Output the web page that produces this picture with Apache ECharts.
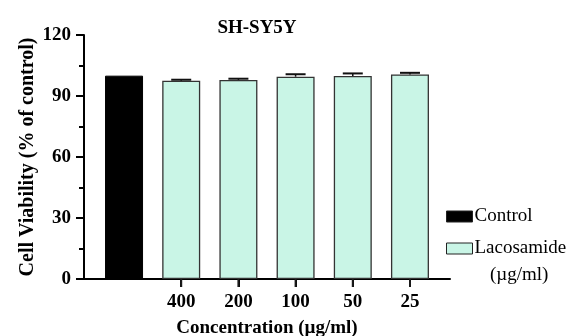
<!DOCTYPE html>
<html>
<head>
<meta charset="UTF-8" />
<title>SH-SY5Y viability</title>
<script src="https://cdn.jsdelivr.net/npm/echarts@6/dist/echarts.min.js"></script>
<style>
  html, body { margin: 0; padding: 0; background: #fff; }
  #chart { width: 573px; height: 336px; }
</style>
</head>
<body>
<div id="chart"></div>
<script>
  // data
  var concLabels = ['400', '200', '100', '50', '25'];
  var controlValue = 100;
  var lacoValues = [97.5, 97.9, 99.5, 99.8, 100.6];
  var lacoErrors = [0.5, 0.6, 1.2, 1.3, 0.8];
  var yTicks = [0, 30, 60, 90, 120];

  var font = "'Liberation Serif', 'Times New Roman', serif";
  var lacoColor = '#c9f5e6';

  var chart = echarts.init(document.getElementById('chart'));

  // x position 0 is the control, 1..5 the lacosamide doses
  var lacoData = lacoValues.map(function (v, i) { return [i + 1, v]; });
  var errData = lacoValues.map(function (v, i) { return [i + 1, v, lacoErrors[i]]; });
  var doseTicks = concLabels.map(function (l, i) { return i + 1; });

  var option = {
    animation: false,
    title: {
      text: 'SH-SY5Y',
      left: 252,
      top: 14,
      textAlign: 'center',
      textStyle: { fontFamily: font, fontSize: 19, fontWeight: 'bold', color: '#000' }
    },
    grid: { left: 84, right: 123, top: 35, bottom: 57, outerBoundsMode: 'none', containLabel: false },
    legend: {
      orient: 'vertical',
      left: 441,
      top: 202,
      icon: 'rect',
      itemWidth: 26,
      itemHeight: 11,
      itemGap: 13,
      itemStyle: { borderColor: '#222', borderWidth: 1 },
      textStyle: { fontFamily: font, fontSize: 19, color: '#000', padding: [0, 0, 0, -3] },
      data: ['Control', 'Lacosamide']
    },
    graphic: [
      {
        type: 'text',
        left: 490,
        top: 266,
        style: { text: '(\u00b5g/ml)', font: '19px ' + font, fill: '#000' }
      }
    ],
    xAxis: {
      type: 'value',
      min: -0.7,
      max: 5.7,
      name: 'Concentration (\u00b5g/ml)',
      nameLocation: 'middle',
      nameGap: 40,
      nameMoveOverlap: false,
      nameTextStyle: { fontFamily: font, fontSize: 19, fontWeight: 'bold', color: '#000' },
      splitLine: { show: false },
      axisLine: { lineStyle: { color: '#000', width: 2 } },
      axisTick: { show: true, customValues: doseTicks, length: 8, lineStyle: { color: '#000', width: 2 } },
      axisLabel: {
        customValues: doseTicks,
        margin: 14,
        fontFamily: font, fontSize: 19, fontWeight: 'bold', color: '#000',
        formatter: function (v) { return concLabels[Math.round(v) - 1] || ''; }
      }
    },
    yAxis: {
      type: 'value',
      min: 0,
      max: 120,
      interval: 30,
      name: 'Cell Viability (% of control)',
      nameLocation: 'middle',
      nameGap: 46,
      nameMoveOverlap: false,
      nameTextStyle: { fontFamily: font, fontSize: 20, fontWeight: 'bold', color: '#000' },
      splitLine: { show: false },
      axisLine: { show: true, onZero: false, lineStyle: { color: '#000', width: 2 } },
      axisTick: { show: true, length: 8, lineStyle: { color: '#000', width: 2 } },
      minorTick: { show: true, splitNumber: 2, length: 5, lineStyle: { color: '#000', width: 2 } },
      axisLabel: {
        margin: 13,
        fontFamily: font, fontSize: 19, fontWeight: 'bold', color: '#000',
        formatter: function (v) { return yTicks.indexOf(v) >= 0 ? String(v) : ''; }
      }
    },
    series: [
      {
        name: 'Control',
        type: 'bar',
        barWidth: 38,
        barGap: '-100%',
        itemStyle: { color: '#000', borderColor: '#000', borderWidth: 1 },
        data: [[0, controlValue]]
      },
      {
        name: 'Lacosamide',
        type: 'bar',
        barWidth: 38,
        barGap: '-100%',
        itemStyle: { color: lacoColor, borderColor: '#333', borderWidth: 1.3 },
        data: lacoData
      },
      {
        name: 'err',
        type: 'custom',
        z: 5,
        clip: false,
        data: errData,
        renderItem: function (params, api) {
          var x = api.value(0);
          var top = api.coord([x, api.value(1)]);
          var hi = api.coord([x, api.value(1) + api.value(2)]);
          var half = 10;
          return {
            type: 'group',
            children: [
              { type: 'line', shape: { x1: top[0], y1: top[1], x2: hi[0], y2: hi[1] }, style: { stroke: '#111', lineWidth: 1.5 } },
              { type: 'line', shape: { x1: hi[0] - half, y1: hi[1], x2: hi[0] + half, y2: hi[1] }, style: { stroke: '#111', lineWidth: 2 } }
            ]
          };
        }
      }
    ]
  };

  chart.setOption(option);

  // dose ticks under the axis, placed through the axis scale
  var doseTickMarks = doseTicks.map(function (d) {
    var p = chart.convertToPixel({ gridIndex: 0 }, [d, 0]);
    return { type: 'line', z: 100, shape: { x1: p[0], y1: p[1], x2: p[0], y2: p[1] + 8 }, style: { stroke: '#1a1a1a', lineWidth: 2 } };
  });
  chart.setOption({ graphic: option.graphic.concat(doseTickMarks) });
</script>
</body>
</html>
